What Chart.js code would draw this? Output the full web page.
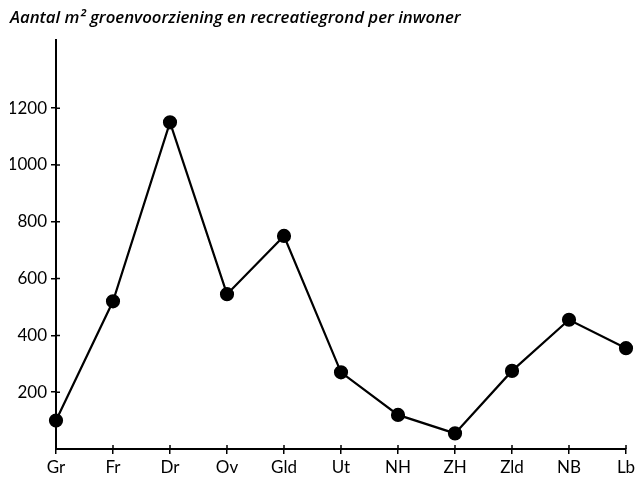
<!DOCTYPE html>
<html>
<head>
<meta charset="utf-8">
<script src="https://cdn.jsdelivr.net/npm/chart.js@4/dist/chart.umd.min.js"></script>
<style>
  html, body { margin: 0; padding: 0; background: #fff; }
  #wrap { width: 644px; height: 477px; }
</style>
</head>
<body>
<div id="wrap"><canvas id="greenChart" width="644" height="477"></canvas></div>
<script>
// Provinces (x axis)
const provinces = ['Gr', 'Fr', 'Dr', 'Ov', 'Gld', 'Ut', 'NH', 'ZH', 'Zld', 'NB', 'Lb'];
// m2 green space and recreation ground per inhabitant
const areaPerInhabitant = [100, 520, 1150, 545, 750, 270, 120, 55, 275, 455, 355];
// y axis tick labels
const yTicks = [200, 400, 600, 800, 1000, 1200];

// small tick stubs on the inner side of both axes (ticks cross the axis lines)
const innerTicks = {
    id: 'innerTicks',
    afterDraw(chart) {
        const c = chart.ctx;
        const x = chart.scales.x, y = chart.scales.y;
        c.save();
        c.strokeStyle = '#000';
        c.lineWidth = 1.5;
        c.beginPath();
        yTicks.forEach(v => {
            const py = y.getPixelForValue(v);
            c.moveTo(y.right, py);
            c.lineTo(y.right + 4, py);
        });
        provinces.forEach((p, i) => {
            if (i === 0) return;
            const px = x.getPixelForValue(i);
            c.moveTo(px, x.top);
            c.lineTo(px, x.top - 4);
        });
        c.stroke();
        c.restore();
    }
};

const ctx = document.getElementById('greenChart').getContext('2d');

new Chart(ctx, {
    type: 'line',
    data: {
        labels: provinces,
        datasets: [{
            data: areaPerInhabitant,
            borderColor: '#000',
            borderWidth: 2.2,
            pointBackgroundColor: '#000',
            pointBorderColor: '#000',
            pointRadius: 6,
            tension: 0,
            fill: false
        }]
    },
    options: {
        responsive: false,
        animation: false,
        layout: { padding: { left: 10, right: 18, top: 0, bottom: 0 } },
        plugins: {
            legend: { display: false },
            tooltip: { enabled: false },
            title: {
                display: true,
                text: 'Aantal m² groenvoorziening en recreatiegrond per inwoner',
                align: 'start',
                color: '#000',
                font: { family: 'Open Sans', size: 16.8, style: 'italic', weight: '600' },
                padding: { top: 8, bottom: 11.8 }
            }
        },
        scales: {
            x: {
                type: 'category',
                offset: false,
                border: { color: '#000', width: 2 },
                grid: { drawOnChartArea: false, color: '#000', tickLength: 5, lineWidth: 1.5 },
                ticks: { color: '#000', padding: 3, font: { family: 'Lato', size: 17 } },
                afterFit: function (scale) { scale.height = 28; }
            },
            y: {
                min: 0,
                max: 1440,
                border: { color: '#000', width: 2 },
                grid: { drawOnChartArea: false, color: '#000', tickLength: 5, lineWidth: 1.5 },
                ticks: {
                    color: '#000',
                    padding: 4,
                    font: { family: 'Lato', size: 17 },
                    callback: function (value) { return String(value); }
                },
                afterBuildTicks: function (scale) {
                    scale.ticks = yTicks.map(v => ({ value: v }));
                },
                afterFit: function (scale) { scale.width = 46; }
            }
        }
    },
    plugins: [innerTicks]
});
</script>
</body>
</html>
